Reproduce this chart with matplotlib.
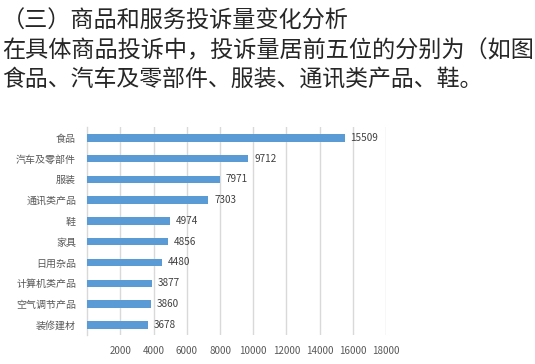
import matplotlib
matplotlib.use('Agg')
import matplotlib.pyplot as plt
import numpy as np

plt.rcParams['font.family'] = ['Noto Sans CJK SC', 'DejaVu Sans']

# data
categories = ['食品', '汽车及零部件', '服装', '通讯类产品', '鞋',
              '家具', '日用杂品', '计算机类产品', '空气调节产品', '装修建材']
counts = [15509, 9712, 7971, 7303, 4974, 4856, 4480, 3877, 3860, 3678]
xticks = [2000, 4000, 6000, 8000, 10000, 12000, 14000, 16000, 18000]

header = ['（三）商品和服务投诉量变化分析',
          '在具体商品投诉中，投诉量居前五位的分别为（如图',
          '食品、汽车及零部件、服装、通讯类产品、鞋。']

fig = plt.figure(figsize=(5.35, 3.64), dpi=100)
fig.patch.set_facecolor('white')

# text above the chart
fig.text(0.004, 0.942, header[0], fontsize=16.7, color='#262626', va='center')
fig.text(0.004, 0.860, header[1], fontsize=16.7, color='#262626', va='center')
fig.text(0.004, 0.783, header[2], fontsize=16.5, color='#262626', va='center')

ax = fig.add_axes([0.163, 0.079, 0.5585, 0.571])
y = np.arange(len(categories))
ax.barh(y, counts, height=0.36, color='#5b9bd5', zorder=3)
for yi, v in zip(y, counts):
    ax.text(v + 350, yi, str(v), va='center', ha='left', fontsize=7.2, color='#404040')

ax.set_ylim(len(categories) - 0.5, -0.5)
ax.set_xlim(0, 18000)
ax.set_yticks(y)
ax.set_yticklabels(categories, fontsize=7.2, color='#595959')
ax.set_xticks(xticks)
ax.set_xticklabels([str(t) for t in xticks], fontsize=7, color='#595959')
ax.tick_params(axis='both', length=0)
ax.tick_params(axis='x', pad=8)
ax.tick_params(axis='y', pad=8)
ax.grid(axis='x', color='#d9d9d9', linewidth=1, zorder=0)
for s in ['top', 'right', 'bottom']:
    ax.spines[s].set_visible(False)
ax.spines['left'].set_color('#d9d9d9')
ax.spines['left'].set_linewidth(1)

fig.savefig('out.png', dpi=100)
